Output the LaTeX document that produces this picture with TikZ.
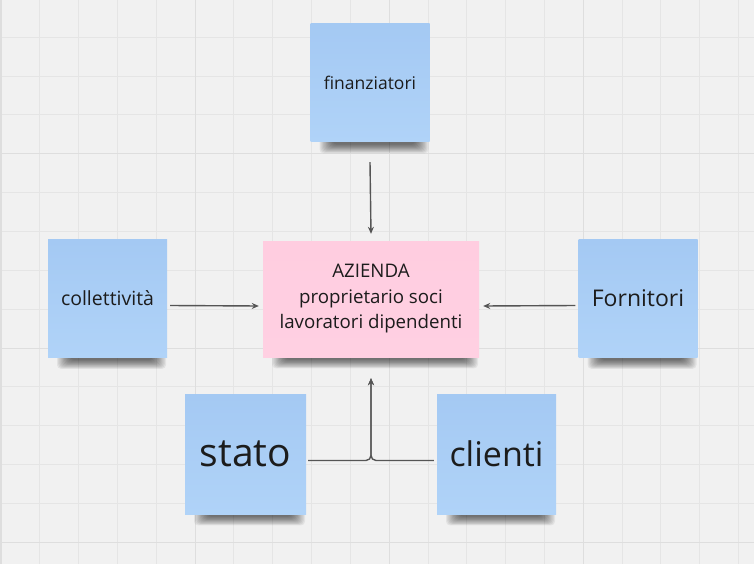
\documentclass[tikz,border=0pt]{standalone}
\usepackage{fontspec}
\setmainfont{Open Sans}
\usetikzlibrary{arrows.meta}
\definecolor{bgc}{HTML}{F1F1F1}
\definecolor{gridc}{HTML}{E5E5E5}
\definecolor{gridmaj}{HTML}{DEDEDE}
\definecolor{notetop}{HTML}{A4C9F3}
\definecolor{notebot}{HTML}{B0D3F8}
\definecolor{pinktop}{HTML}{FFCDE0}
\definecolor{pinkbot}{HTML}{FFD0E2}
\definecolor{txt}{HTML}{1C1C1C}
\definecolor{arrc}{HTML}{555555}
\pgfdeclarelayer{bg}
\pgfdeclarelayer{shadowlayer}
\pgfsetlayers{bg,shadowlayer,main}
\tikzset{
  note/.style={rectangle, inner sep=0pt, minimum width=119pt, minimum height=118pt,
    top color=notetop, bottom color=notebot, text=txt, align=center},
  pinknote/.style={rectangle, inner sep=0pt, minimum width=216pt, minimum height=116pt,
    top color=pinktop, bottom color=pinkbot, text=txt, align=center},
  arr/.style={draw=arrc, line width=1.4pt, -{Stealth[length=7pt,width=6pt]}},
}
\newcommand{\noteshadow}[1]{%
  \begin{pgfonlayer}{shadowlayer}
  \foreach \k in {1,2,...,12}{
    \fill[black, opacity=0.06, rounded corners=4pt]
      ([shift={(8+1.2*\k,-4)}]#1.south west) rectangle ([shift={(-1.2*\k,12-0.8*\k)}]#1.south east);
  }
  \end{pgfonlayer}}
\begin{document}
\begin{tikzpicture}[x=1pt,y=-1pt]
\useasboundingbox (0,0) rectangle (754,564);
\begin{pgfonlayer}{bg}
\fill[bgc] (0,0) rectangle (754,564);
\foreach \i in {0,...,19}{
  \draw[gridc, line width=1pt] ({1+38.82*\i},0) -- ({1+38.82*\i},564);
}
\foreach \j in {1,...,15}{
  \draw[gridc, line width=1pt] (0,{-1.55+38.85*\j}) -- (754,{-1.55+38.85*\j});
}
\foreach \i in {0,5,10,15}{
  \draw[gridmaj, line width=1.2pt] ({1+38.82*\i},0) -- ({1+38.82*\i},564);
}
\foreach \j in {4,9,14}{
  \draw[gridmaj, line width=1.2pt] (0,{-1.55+38.85*\j}) -- (754,{-1.55+38.85*\j});
}
\end{pgfonlayer}

\node[note, font=\fontsize{17.5}{21}\selectfont] (fin) at (370,83) {finanziatori};
\node[note, font=\fontsize{19.5}{23}\selectfont] (coll) at (107.5,298.5) {collettività};
\node[note, font=\fontsize{23}{27}\selectfont] (forn) at (638,298.5) {Fornitori};
\node[note, minimum width=121pt, minimum height=120pt, font=\fontsize{39}{44}\selectfont] (stato) at (245.5,454) {stato};
\node[note, minimum height=120pt, font=\fontsize{34}{40}\selectfont] (cli) at (496.5,454) {clienti};
\node[pinknote, font=\fontsize{18.7}{25.5}\selectfont] (az) at (371,299) {AZIENDA\\proprietario soci\\lavoratori dipendenti};

\noteshadow{fin}
\noteshadow{coll}
\noteshadow{forn}
\noteshadow{stato}
\noteshadow{cli}
\noteshadow{az}

\draw[arr] ([yshift=-20]fin.south) -- ([yshift=7]az.north);
\draw[arr] ([shift={(3,7)}]coll.east) -- ([shift={(-4,7)}]az.west);
\draw[arr] ([shift={(-3,7)}]forn.west) -- ([shift={(4,7)}]az.east);
\draw[arr, rounded corners=5pt] ([shift={(2,6.5)}]stato.east) -| ([yshift=-21]az.south);
\draw[arr, rounded corners=5pt] ([shift={(-3,6.5)}]cli.west) -| ([yshift=-21]az.south);
\end{tikzpicture}
\end{document}
